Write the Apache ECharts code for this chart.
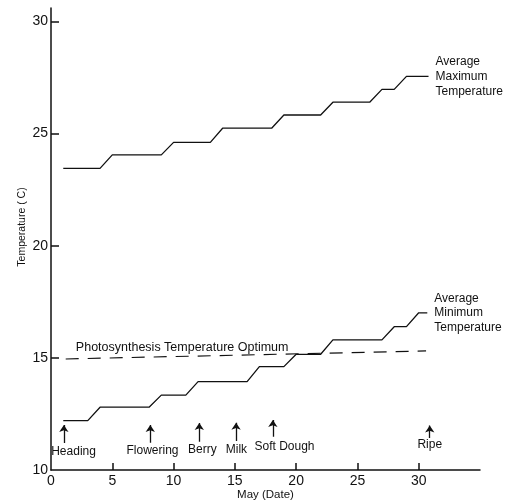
<!DOCTYPE html>
<html>
<head>
<meta charset="utf-8">
<script src="https://cdn.jsdelivr.net/npm/echarts@6/dist/echarts.min.js"></script>
<style>html,body{margin:0;padding:0;background:#fff;}#c{width:514px;height:500px;}</style>
</head>
<body>
<div id="c"></div>
<script>
// Average maximum temperature (step line)
const maxDays = [1, 4, 5, 9, 10, 13, 14, 18, 19, 22, 23, 26, 27, 28, 29, 30.8];
const maxTemp = [23.45, 23.45, 24.05, 24.05, 24.61, 24.61, 25.24, 25.24, 25.83, 25.83, 26.4, 26.4, 26.97, 26.97, 27.55, 27.55];
// Average minimum temperature (step line)
const minDays = [1, 3, 4, 8, 9, 11, 12, 16, 17, 19, 20, 22, 23, 27, 28, 29, 30, 30.7];
const minTemp = [12.2, 12.2, 12.8, 12.8, 13.34, 13.34, 13.94, 13.94, 14.61, 14.61, 15.16, 15.16, 15.8, 15.8, 16.39, 16.39, 17.01, 17.01];
// Photosynthesis temperature optimum (dashed)
const optDays = [1.2, 30.6];
const optTemp = [14.95, 15.31];
// Growth stages
const stageNames = ['Heading', 'Flowering', 'Berry', 'Milk', 'Soft Dough', 'Ripe'];
const stageDays = [1.05, 8.1, 12.1, 15.1, 18.1, 30.9];
const arrowBottom = [11.2, 11.22, 11.26, 11.29, 11.48, 11.43];
const arrowTop = [12.01, 12.01, 12.1, 12.11, 12.23, 11.98];
const stageLabelDays = [1.84, 8.28, 12.35, 15.13, 19.05, 30.9];
const stageLabelTemp = [10.82, 10.86, 10.89, 10.89, 11.03, 11.11];
// Tick labels
const xTicks = [0, 5, 10, 15, 20, 25, 30];
const yTicks = [10, 15, 20, 25, 30];
// Annotations
const optLabel = 'Photosynthesis Temperature Optimum';
const optLabelPos = [10.7, 15.48];
const maxLabel = 'Average\nMaximum\nTemperature';
const minLabel = 'Average\nMinimum\nTemperature';

const FONT = 'Liberation Sans';
const INK = '#111';
const zip = (a, b) => a.map((v, i) => [v, b[i]]);

const chart = echarts.init(document.getElementById('c'), null, {renderer: 'canvas'});
chart.setOption({
  backgroundColor: '#fff',
  animation: false,
  grid: {left: 51, right: 34, top: 8, bottom: 30, outerBoundsMode: 'none', containLabel: false},
  xAxis: {
    type: 'value', min: 0, max: 35, interval: 5,
    name: 'May (Date)', nameLocation: 'middle', nameGap: 19, nameMoveOverlap: false,
    nameTextStyle: {fontFamily: FONT, fontSize: 11.5, color: INK},
    axisLine: {lineStyle: {color: INK, width: 1.5}},
    axisTick: {inside: true, length: 7, customValues: xTicks.slice(1), lineStyle: {color: INK, width: 1.5}},
    axisLabel: {customValues: xTicks, fontFamily: FONT, fontSize: 14, color: INK, margin: 4},
    splitLine: {show: false}
  },
  yAxis: {
    type: 'value', min: 10, max: 30.6, interval: 5,
    name: 'Temperature ( C)', nameLocation: 'middle', nameGap: 23, nameMoveOverlap: false,
    nameTextStyle: {fontFamily: FONT, fontSize: 10.5, color: INK, padding: [0, 0, 0, 24]},
    axisLine: {show: true, lineStyle: {color: INK, width: 1.5}},
    axisTick: {show: true, inside: true, length: 8, customValues: yTicks.slice(1), lineStyle: {color: INK, width: 1.5}},
    axisLabel: {customValues: yTicks, fontFamily: FONT, fontSize: 14, color: INK, margin: 3},
    splitLine: {show: false}
  },
  series: [
    {
      name: 'Average Maximum Temperature', type: 'line', data: zip(maxDays, maxTemp),
      symbol: 'none', lineStyle: {color: INK, width: 1.3},
      endLabel: {show: true, formatter: maxLabel, distance: 7, fontFamily: FONT, fontSize: 12, lineHeight: 15, color: INK, align: 'left'}
    },
    {
      name: 'Average Minimum Temperature', type: 'line', data: zip(minDays, minTemp),
      symbol: 'none', lineStyle: {color: INK, width: 1.3},
      endLabel: {show: true, formatter: minLabel, distance: 7, fontFamily: FONT, fontSize: 12, lineHeight: 14.5, color: INK, align: 'left'}
    },
    {
      name: 'Optimum', type: 'line', data: zip(optDays, optTemp),
      symbol: 'none', lineStyle: {color: INK, width: 1.2, type: [13, 9]}
    },
    {
      name: 'Stage arrows', type: 'lines', coordinateSystem: 'cartesian2d',
      symbol: ['none', 'arrow'], symbolSize: [0, 7],
      lineStyle: {color: INK, width: 1.3, opacity: 1},
      data: stageDays.map((d, i) => ({coords: [[d, arrowBottom[i]], [d, arrowTop[i]]]}))
    },
    {
      name: 'Stage labels', type: 'scatter', symbolSize: 0, silent: true,
      itemStyle: {opacity: 1},
      data: stageNames.map((n, i) => ({name: n, value: [stageLabelDays[i], stageLabelTemp[i]]})),
      label: {show: true, position: 'inside', formatter: p => p.name, fontFamily: FONT, fontSize: 12, color: INK, opacity: 1}
    },
    {
      name: 'Optimum label', type: 'scatter', symbolSize: 0, silent: true,
      itemStyle: {opacity: 1},
      data: [{name: optLabel, value: optLabelPos}],
      label: {show: true, position: 'inside', formatter: p => p.name, fontFamily: FONT, fontSize: 12.5, color: INK, opacity: 1}
    }
  ]
});
</script>
</body>
</html>
